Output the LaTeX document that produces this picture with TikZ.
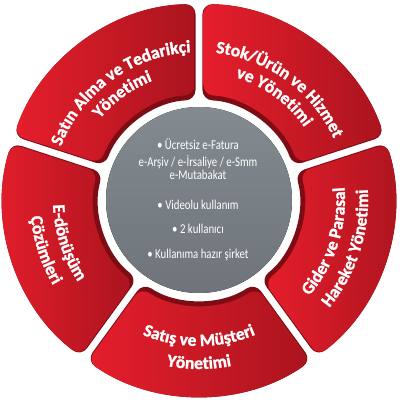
\documentclass[tikz,border=0pt]{standalone}
\usepackage{fontspec}
\setmainfont{Carlito}
\newfontfamily\ctrfont[FakeStretch=0.8]{Carlito}
\newfontfamily\segfont[FakeBold=1.4]{Carlito Bold}
\usetikzlibrary{decorations.text}
\definecolor{redA}{RGB}{230,30,44}
\definecolor{redB}{RGB}{170,20,30}
\definecolor{redD}{RGB}{125,12,20}
\definecolor{grayA}{RGB}{132,139,144}
\definecolor{grayB}{RGB}{110,116,121}
\newcommand\segtxt{\segfont\fontsize{17.5}{20}\selectfont\color{white}}
\tikzset{
  segbase/.style={fill=redD, rounded corners=10pt},
  segface/.style={left color=redA, right color=redB, rounded corners=10pt},
  ctr/.style={text=white, font=\ctrfont\fontsize{13.5}{15}\selectfont, anchor=base, inner sep=0pt},
}
% #1 mid angle, #2 inner radius, #3 outer radius, #4 half gap, #5 style
\newcommand\ringseg[5]{%
  \pgfmathsetmacro\ao{#1-36+asin(#4/#3)}%
  \pgfmathsetmacro\bo{#1+36-asin(#4/#3)}%
  \pgfmathsetmacro\ai{#1-36+asin(#4/#2)}%
  \pgfmathsetmacro\bi{#1+36-asin(#4/#2)}%
  \path[#5] ([shift={(\ao:#3pt)}]O) arc[start angle=\ao, end angle=\bo, radius=#3pt]
     -- ([shift={(\bi:#2pt)}]O) arc[start angle=\bi, end angle=\ai, radius=#2pt] -- cycle;
}
% clockwise text (top segments): #1 mid angle, #2 radius, #3 text
\newcommand\cwtext[3]{%
  \path[decorate, decoration={text along path, text align=center, text={|\segtxt|#3}}]
    ([shift={(#1+45:#2pt)}]O) arc[start angle=#1+45, end angle=#1-45, radius=#2pt];
}
% counter-clockwise text (bottom segments)
\newcommand\ccwtext[3]{%
  \path[decorate, decoration={text along path, text align=center, text={|\segtxt|#3}}]
    ([shift={(#1-45:#2pt)}]O) arc[start angle=#1-45, end angle=#1+45, radius=#2pt];
}
\begin{document}
\begin{tikzpicture}
\useasboundingbox (0,0) rectangle (400pt,400pt);
\fill[white] (0,0) rectangle (400pt,400pt);
\coordinate (O) at (199pt,200pt);
% segments
\foreach \m in {126,54,-18,-90,198}{
  \ringseg{\m}{100}{196}{3.5}{segbase}
  \ringseg{\m}{105}{196}{4.5}{segface}
}
% centre disc
\fill[top color=grayA, bottom color=grayB] (O) circle[radius=93pt];
% segment labels
\cwtext{126}{148}{Satın Alma ve Tedarikçi}
\cwtext{126}{128}{Yönetimi}
\cwtext{54}{148}{Stok/Ürün ve Hizmet}
\cwtext{54}{128}{ve Yönetimi}
\ccwtext{-18}{146}{Gider ve Parasal}
\ccwtext{-18}{169}{Hareket Yönetimi}
\ccwtext{-90}{146}{Satış ve Müşteri}
\ccwtext{-90}{169}{Yönetimi}
\ccwtext{198}{146}{E-dönüşüm}
\ccwtext{198}{169}{Çözümleri}
% centre text
\node[ctr] (c1) at (198pt,250pt) {• Ücretsiz e-Fatura};
\node[ctr] (c2) at (198pt,233.5pt) {e-Arşiv / e-İrsaliye / e-Smm};
\node[ctr] (c3) at (198pt,220.5pt) {e-Mutabakat};
\node[ctr] (c4) at (198pt,190pt) {• Videolu kullanım};
\node[ctr] (c5) at (198pt,166pt) {• 2 kullanıcı};
\node[ctr] (c6) at (198pt,141pt) {• Kullanıma hazır şirket};
\end{tikzpicture}
\end{document}
